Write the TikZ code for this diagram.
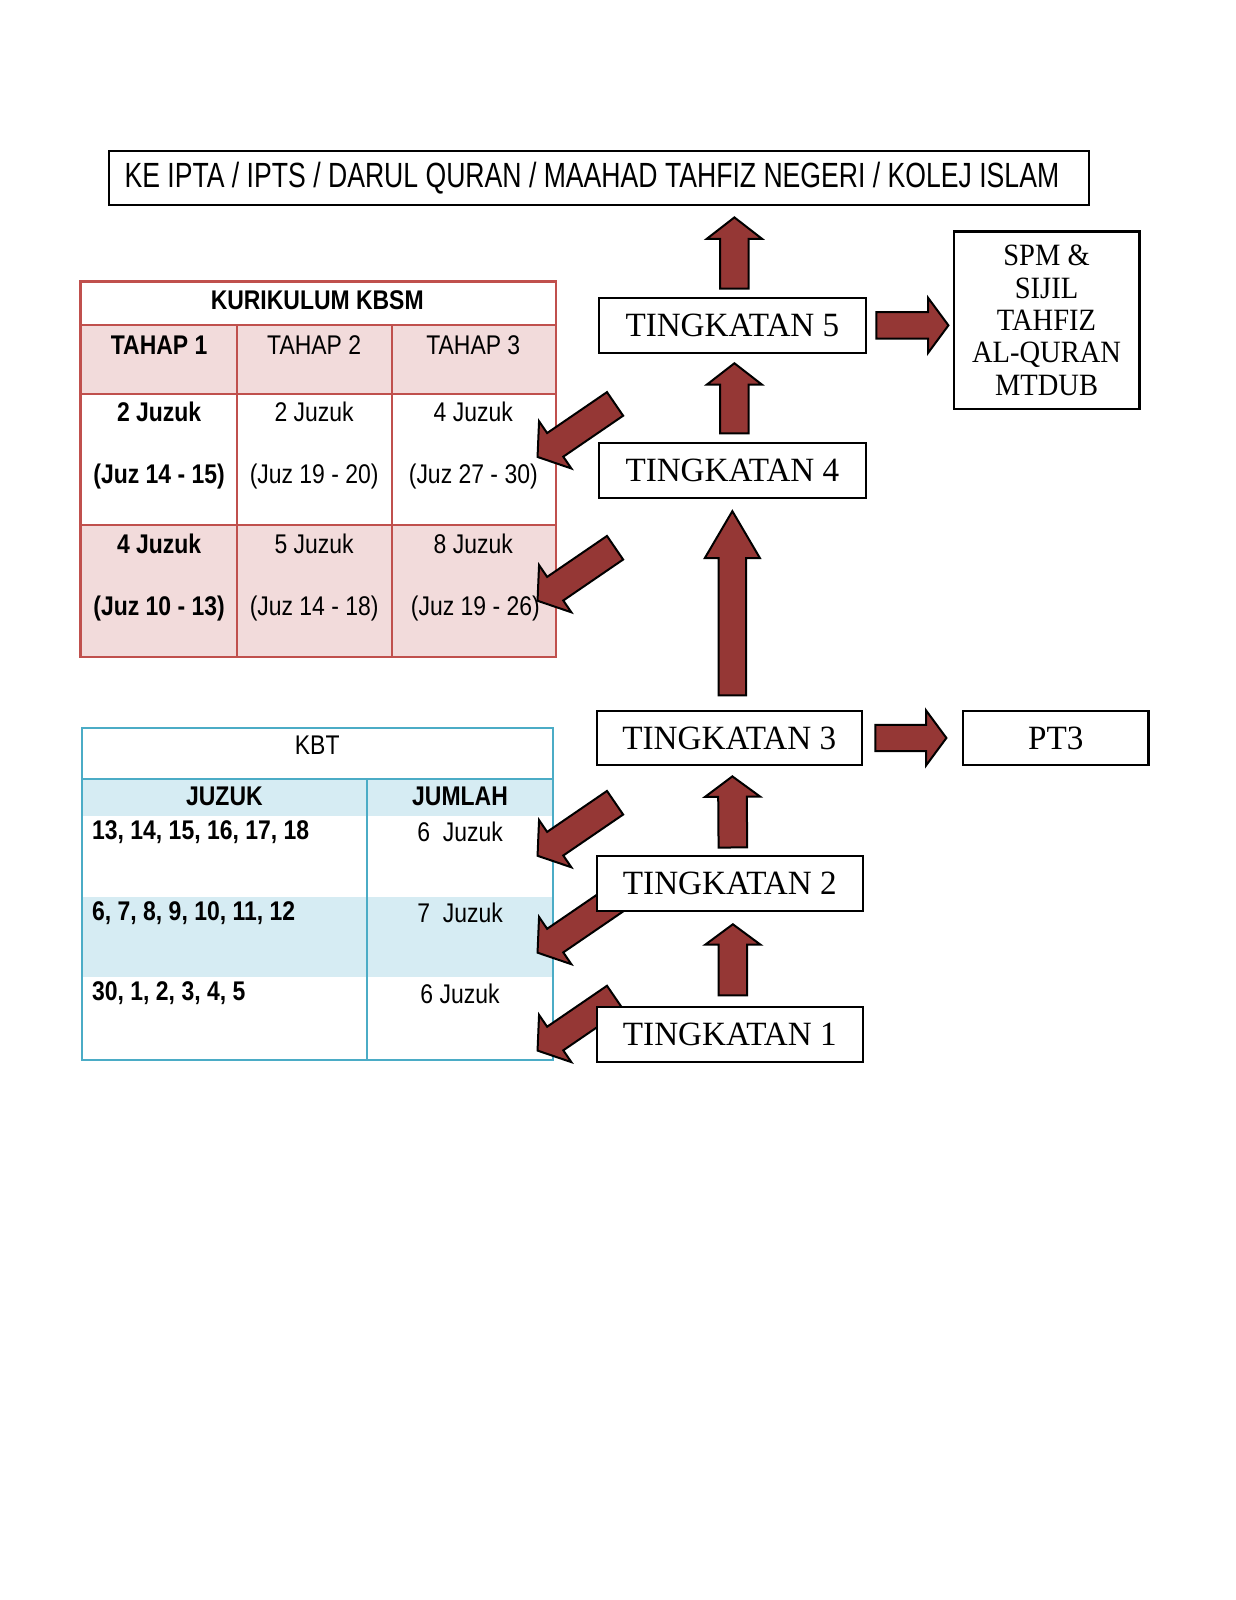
\documentclass[tikz,border=0pt]{standalone}
\usepackage{fontspec}
\setmainfont{Liberation Serif}
\newfontfamily\nar[FakeStretch=0.85]{Liberation Sans}
\newfontfamily\bannerfont[FakeStretch=0.76]{Liberation Sans}
\newfontfamily\ser[FakeStretch=0.975]{Liberation Serif}
\newfontfamily\spmfont[FakeStretch=0.92]{Liberation Serif}
\usetikzlibrary{calc}
\definecolor{arrowred}{HTML}{953735}
\definecolor{kbsmline}{HTML}{C0504D}
\definecolor{kbsmfill}{HTML}{F2DBDB}
\definecolor{kbtline}{HTML}{4BACC6}
\definecolor{kbtfill}{HTML}{D6ECF3}
\newcommand{\barrow}[5]{%
  \coordinate (bt) at #1;
  \coordinate (bp) at #2;
  \coordinate (bh) at ($(bp)!#5!(bt)$);
  \draw[blockarrow] ($(bt)!#3!90:(bp)$) -- ($(bh)!#3!-90:(bt)$) -- ($(bh)!#4!-90:(bt)$) -- (bp) -- ($(bh)!#4!90:(bt)$) -- ($(bh)!#3!90:(bt)$) -- ($(bt)!#3!-90:(bp)$) -- cycle;
}
\begin{document}
\begin{tikzpicture}[x=0.51pt,y=-0.51pt,
  tbl/.style={inner sep=0pt, font=\nar\fontsize{13.5}{16}\selectfont},
  tblb/.style={inner sep=0pt, font=\nar\bfseries\fontsize{13.5}{16}\selectfont},
  formbox/.style={draw=black, line width=1.2pt, fill=white, inner sep=0pt,
    minimum width=133.6pt, minimum height=27.5pt, font=\ser\fontsize{17}{20}\selectfont},
  blockarrow/.style={fill=arrowred, draw=black, line width=1pt, line join=miter},
  kbsmrule/.style={draw=kbsmline, line width=1.1pt},
  kbtrule/.style={draw=kbtline, line width=0.9pt}]
\fill[white] (0,0) rectangle (1211.76,1568.63);
\useasboundingbox (0,0) rectangle (1211.76,1568.63);

% banner
\node[draw=black, line width=1.2pt, minimum height=27pt, inner ysep=0pt, inner xsep=7.65pt,
  text width=474.7pt, align=flush left,
  font=\bannerfont\fontsize{17.5}{20}\selectfont] (banner) at (587.5,174.5)
  {\mbox{KE IPTA / IPTS / DARUL QURAN / MAAHAD TAHFIZ NEGERI / KOLEJ ISLAM}};

% KBSM table
\fill[kbsmfill] (79,319) rectangle (545,386);
\fill[kbsmfill] (79,515) rectangle (545,644);
\draw[kbsmrule] (79,276) rectangle (545,644);
\draw[kbsmrule] (79,319) -- (545,319);
\draw[kbsmrule] (79,386) -- (545,386);
\draw[kbsmrule] (79,515) -- (545,515);
\draw[kbsmrule] (232,319) -- (232,644);
\draw[kbsmrule] (384,319) -- (384,644);
\node[tblb] (kbsm) at (311,294) {KURIKULUM KBSM};
\node[tblb] (th1) at (156,338) {TAHAP 1};
\node[tbl] (th2) at (308,338) {TAHAP 2};
\node[tbl] (th3) at (464,338) {TAHAP 3};
\node[tblb] (a1) at (156,404) {2 Juzuk};
\node[tblb] (b1) at (156,467) {(Juz 14 - 15)};
\node[tbl] (a2) at (308,404) {2 Juzuk};
\node[tbl] (b2) at (308,467) {(Juz 19 - 20)};
\node[tbl] (a3) at (464,404) {4 Juzuk};
\node[tbl] (b3) at (464,467) {(Juz 27 - 30)};
\node[tblb] (c1) at (156,533) {4 Juzuk};
\node[tblb] (e1) at (156,597) {(Juz 10 - 13)};
\node[tbl] (c2) at (308,533) {5 Juzuk};
\node[tbl] (e2) at (308,597) {(Juz 14 - 18)};
\node[tbl] (c3) at (464,533) {8 Juzuk};
\node[tbl] (e3) at (466,597) {(Juz 19 - 26)};

% KBT table
\fill[kbtfill] (80,764) rectangle (542,800);
\fill[kbtfill] (80,879) rectangle (542,958);
\draw[kbtrule] (80,714) rectangle (542,1039);
\draw[kbtrule] (80,764) -- (542,764);
\draw[kbtrule] (360,764) -- (360,1039);
\node[tbl] (kbt) at (311,731) {KBT};
\node[tblb] (jz) at (220,781) {JUZUK};
\node[tblb] (jm) at (451,781) {JUMLAH};
\node[tblb, anchor=west] (r1) at (90,816) {13, 14, 15, 16, 17, 18};
\node[tbl] (s1) at (451,816) {6~~Juzuk};
\node[tblb, anchor=west] (r2) at (90,895) {6, 7, 8, 9, 10, 11, 12};
\node[tbl] (s2) at (451,895) {7~~Juzuk};
\node[tblb, anchor=west] (r3) at (90,974) {30, 1, 2, 3, 4, 5};
\node[tbl] (s3) at (451,974) {6 Juzuk};

% diagonal arrows into the tables
\coordinate (d1tail) at (603,396);  \coordinate (d1tip) at (527,448);
\coordinate (d2tail) at (603,537);  \coordinate (d2tip) at (527,589);
\coordinate (d3tail) at (603,787);  \coordinate (d3tip) at (527,839);
\coordinate (d4tail) at (603,882);  \coordinate (d4tip) at (527,934);
\coordinate (d5tail) at (603,978);  \coordinate (d5tip) at (527,1030);
\barrow{(d1tail)}{(d1tip)}{7.15pt}{14.3pt}{10.7pt}
\barrow{(d2tail)}{(d2tip)}{7.15pt}{14.3pt}{10.7pt}
\barrow{(d3tail)}{(d3tip)}{7.15pt}{14.3pt}{10.7pt}
\barrow{(d4tail)}{(d4tip)}{7.15pt}{14.3pt}{10.7pt}
\barrow{(d5tail)}{(d5tip)}{7.15pt}{14.3pt}{10.7pt}

% form boxes
\node[formbox] (t5) at (718,319) {TINGKATAN 5};
\node[formbox] (t4) at (718,461) {TINGKATAN 4};
\node[formbox, minimum width=132.6pt, minimum height=27pt] (t3) at (715,723.5) {TINGKATAN 3};
\node[formbox, minimum width=133.1pt] (t2) at (715.5,866) {TINGKATAN 2};
\node[formbox, minimum width=133.1pt] (t1) at (715.5,1014) {TINGKATAN 1};
\node[draw=black, line width=1.2pt, fill=white, inner sep=0pt, minimum width=92.8pt, minimum height=88.7pt,
  align=center, font=\spmfont\fontsize{15.5}{16.2}\selectfont] (spm) at (1026,314)
  {SPM \&\\SIJIL\\TAHFIZ\\AL-QURAN\\MTDUB};
\node[draw=black, line width=1.2pt, fill=white, inner sep=0pt, minimum width=92.8pt, minimum height=27pt,
  font=\ser\fontsize{17}{20}\selectfont] (pt3) at (1035,723.5) {PT3};

% vertical arrows
\barrow{($(t5.north)+(2,-8)$)}{($(t5.north |- banner.south)+(2,11)$)}{7.15pt}{13.8pt}{10.7pt}
\barrow{($(t4.north)+(2,-8)$)}{($(t5.south)+(2,9)$)}{7.15pt}{13.8pt}{10.7pt}
\barrow{($(t3.north)+(3,-14)$)}{($(t4.south)+(0,12)$)}{6.85pt}{13.8pt}{23.5pt}
\barrow{($(t2.north)+(3,-7)$)}{($(t3.south)+(3,10)$)}{7.15pt}{13.8pt}{10.2pt}
\barrow{($(t1.north)+(3,-10)$)}{($(t2.south)+(3,12)$)}{7.15pt}{13.8pt}{10.2pt}

% horizontal arrows
\barrow{($(t5.east)+(9,0)$)}{($(spm.west |- t5.east)+(-4,0)$)}{6.6pt}{13.8pt}{10.2pt}
\barrow{($(t3.east)+(12,0)$)}{($(pt3.west)+(-15,0)$)}{6.6pt}{13.8pt}{10.2pt}
\end{tikzpicture}
\end{document}
